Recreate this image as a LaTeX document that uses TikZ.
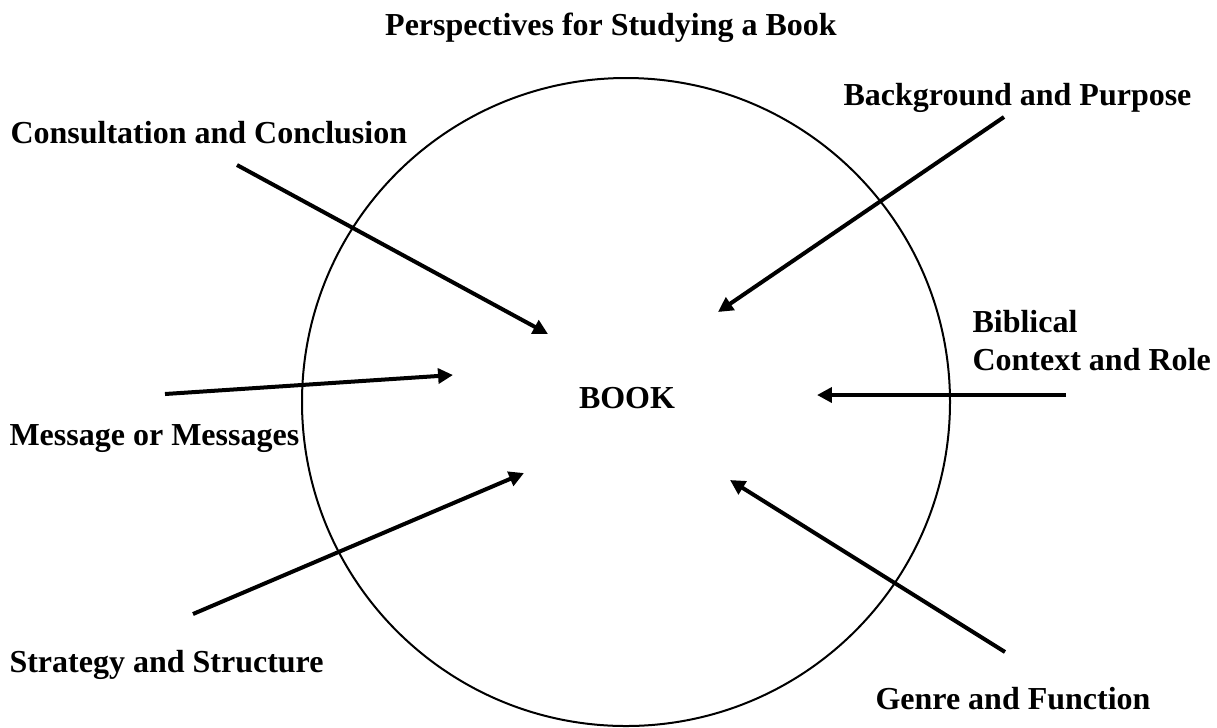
\documentclass[tikz,border=0pt]{standalone}
\usepackage{fontspec}
\setmainfont{Liberation Serif}
\usetikzlibrary{arrows.meta}

\begin{document}
\begin{tikzpicture}[x=0.375pt,y=-0.375pt,font=\bfseries\fontsize{12}{14}\selectfont,
  lbl/.style={anchor=base west,inner sep=0pt},
  arr/.style={line width=1.5pt,-{Triangle[length=5.6pt,width=5.6pt]}}]
\useasboundingbox (0,0) rectangle (1217,727);
\node[circle,draw,line width=0.75pt,minimum size=243pt,inner sep=0pt] (rim) at (626,402) {};
\node[anchor=base,inner sep=0pt] (title) at (611,35) {Perspectives for Studying a Book};
\node[anchor=base,inner sep=0pt] (book)  at (627,408) {BOOK};
\node[lbl] (t_cons)  at (10,143)  {Consultation and Conclusion};
\node[lbl] (t_bg)    at (843,105) {Background and Purpose};
\node[lbl] (t_bib)   at (972,332) {Biblical};
\node[lbl] (t_ctx)   at (972,370) {Context and Role};
\node[lbl] (t_msg)   at (9,445)   {Message or Messages};
\node[lbl] (t_strat) at (9,672)   {Strategy and Structure};
\node[lbl] (t_genre) at (875,709) {Genre and Function};
% arrow ends
\coordinate (s_cons)  at (237,165);  \coordinate (e_cons)  at (548,334);
\coordinate (s_bg)    at (1004,117); \coordinate (e_bg)    at (718,312);
\coordinate (s_msg)   at (165,394);  \coordinate (e_msg)   at (453,375);
\coordinate (s_bib)   at (1066,395); \coordinate (e_bib)   at (817,395);
\coordinate (s_strat) at (193,614);  \coordinate (e_strat) at (524,473);
\coordinate (s_genre) at (1005,652); \coordinate (e_genre) at (730,480);
\path[arr]
          (s_cons)  edge (e_cons)
          (s_bg)    edge (e_bg)
          (s_msg)   edge (e_msg)
          (s_bib)   edge (e_bib)
          (s_strat) edge (e_strat)
          (s_genre) edge (e_genre);
\end{tikzpicture}
\end{document}
